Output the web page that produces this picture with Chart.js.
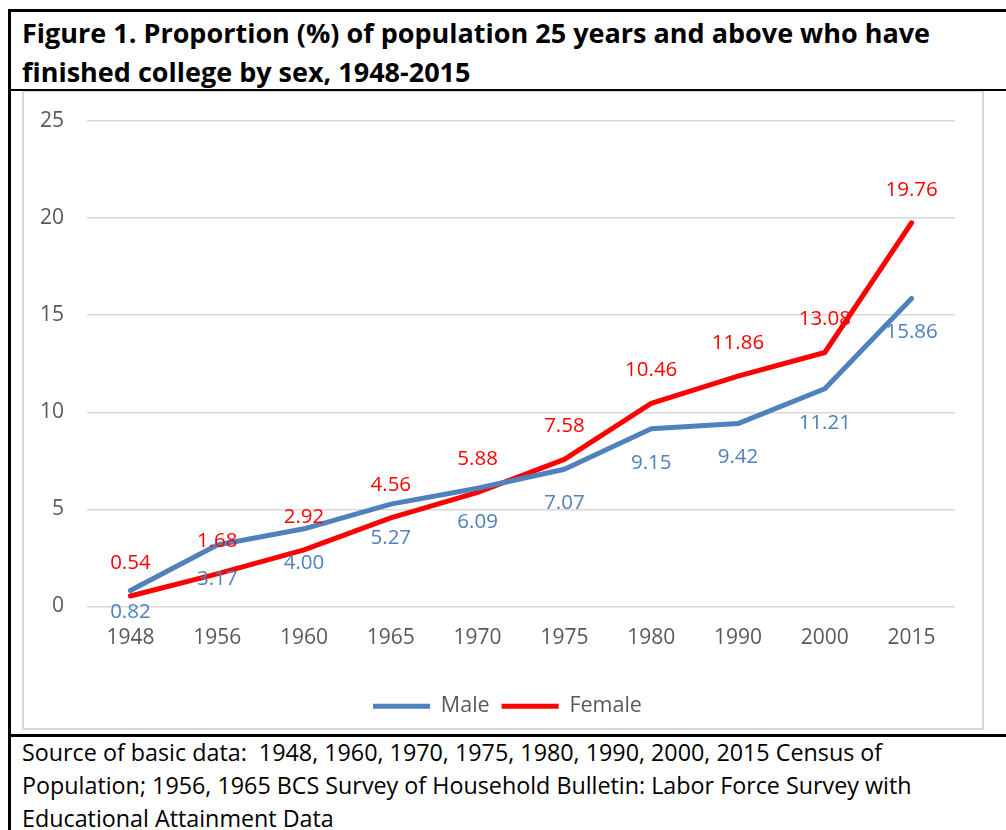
<!DOCTYPE html>
<html>
<head>
<meta charset="utf-8">
<script src="https://cdn.jsdelivr.net/npm/chart.js@4/dist/chart.umd.min.js"></script>
<style>
  body { margin: 0; background: #fff; font-family: "Open Sans", "Noto Sans", sans-serif; }
  #page { position: relative; width: 1006px; height: 830px; overflow: hidden; }
  #topline { position: absolute; left: 8px; top: 9px; width: 998px; height: 3px; background: #000; }
  #leftline { position: absolute; left: 8px; top: 9px; width: 3px; height: 821px; background: #000; }
  #titleline { position: absolute; left: 8px; top: 89px; width: 998px; height: 2px; background: #000; }
  #srcline { position: absolute; left: 8px; top: 734px; width: 998px; height: 3px; background: #000; }
  #title { position: absolute; left: 22px; top: 13px; font-weight: bold; font-size: 27px; line-height: 39px; color: #000; }
  #box { position: absolute; left: 22px; top: 91px; width: 958px; height: 636px; border: 2px solid #d9d9d9; border-top: 1px solid #d9d9d9; }
  #source { position: absolute; left: 22px; top: 736px; font-size: 23.3px; line-height: 33px; color: #000; }
</style>
</head>
<body>
<div id="page">
  <div id="topline"></div>
  <div id="leftline"></div>
  <div id="titleline"></div>
  <div id="title">Figure 1. Proportion (%) of population 25 years and above who have<br>finished college by sex, 1948-2015</div>
  <div id="box"><canvas id="myChart"></canvas></div>
  <div id="srcline"></div>
  <div id="source">Source of basic data:&nbsp; 1948, 1960, 1970, 1975, 1980, 1990, 2000, 2015 Census of<br>Population; 1956, 1965 BCS Survey of Household Bulletin: Labor Force Survey with<br>Educational Attainment Data</div>
</div>
<script>
var years = ['1948', '1956', '1960', '1965', '1970', '1975', '1980', '1990', '2000', '2015'];
var maleData = [0.82, 3.17, 4.00, 5.27, 6.09, 7.07, 9.15, 9.42, 11.21, 15.86];
var femaleData = [0.54, 1.68, 2.92, 4.56, 5.88, 7.58, 10.46, 11.86, 13.08, 19.76];
var yTicks = [0, 5, 10, 15, 20, 25];

var maleColor = '#4f81bd';
var femaleColor = '#ff0000';
var fontFam = '"Open Sans", "Noto Sans", sans-serif';

// draws value labels: male below the point, female above
var valueLabels = {
  id: 'valueLabels',
  afterDatasetsDraw: function (chart) {
    var ctx = chart.ctx;
    ctx.save();
    ctx.font = '20.5px ' + fontFam;
    ctx.textAlign = 'center';
    ctx.textBaseline = 'middle';
    chart.data.datasets.forEach(function (ds, i) {
      var meta = chart.getDatasetMeta(i);
      meta.data.forEach(function (pt, j) {
        var v = ds.data[j];
        var y = ds.labelPos === 'below' ? pt.y + 34 : pt.y - 33;
        if (y > chart.chartArea.bottom + 6) y = chart.chartArea.bottom + 6;
        ctx.fillStyle = ds.borderColor;
        ctx.fillText(v.toFixed(2), pt.x, y);
      });
    });
    ctx.restore();
  }
};

// legend in the original sits centred under the plot area, not the whole canvas
var legendShift = {
  id: 'legendShift',
  afterLayout: function (chart) {
    chart.legend.left += 18;
    chart.legend.right += 18;
  }
};

var canvas = document.getElementById('myChart');
canvas.width = 958; canvas.height = 636;
canvas.style.width = '958px'; canvas.style.height = '636px';

var myChart = new Chart(canvas, {
  type: 'line',
  data: {
    labels: years,
    datasets: [
      {
        label: 'Male',
        data: maleData,
        borderColor: maleColor,
        backgroundColor: maleColor,
        borderWidth: 5,
        borderCapStyle: 'round',
        borderJoinStyle: 'round',
        pointRadius: 0,
        pointStyle: 'line',
        tension: 0,
        labelPos: 'below'
      },
      {
        label: 'Female',
        data: femaleData,
        borderColor: femaleColor,
        backgroundColor: femaleColor,
        borderWidth: 5,
        borderCapStyle: 'round',
        borderJoinStyle: 'round',
        pointRadius: 0,
        pointStyle: 'line',
        tension: 0,
        labelPos: 'above'
      }
    ]
  },
  options: {
    responsive: false,
    animation: false,
    layout: { padding: { top: 29, right: 27, bottom: 1, left: 0 } },
    plugins: {
      tooltip: { enabled: false },
      legend: {
        position: 'bottom',
        labels: {
          usePointStyle: true,
          pointStyle: 'line',
          pointStyleWidth: 57,
          padding: 12,
          color: '#595959',
          font: { family: fontFam, size: 21.5 }
        }
      }
    },
    scales: {
      x: {
        offset: true,
        grid: { display: false, drawTicks: false },
        border: { display: false },
        ticks: { color: '#595959', padding: 19, font: { family: fontFam, size: 21 }, maxRotation: 0 },
        afterFit: function (s) { s.height = 77; }
      },
      y: {
        min: 0,
        max: 25,
        afterBuildTicks: function (s) { s.ticks = yTicks.map(function (v) { return { value: v }; }); },
        grid: { color: '#d9d9d9', lineWidth: 1.5, drawTicks: false },
        border: { display: false },
        ticks: { color: '#595959', padding: 23, font: { family: fontFam, size: 21 } },
        afterFit: function (s) { s.width = 63; s.paddingTop = 0; s.paddingBottom = 0; }
      }
    }
  },
  plugins: [valueLabels, legendShift]
});
</script>
</body>
</html>
